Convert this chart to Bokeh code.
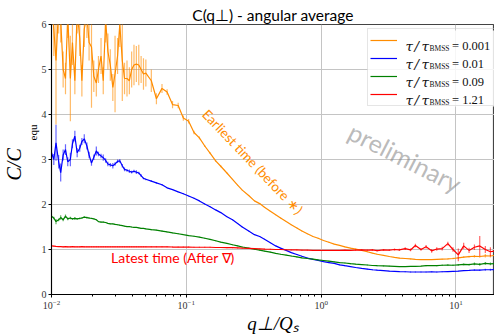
import numpy as np
from bokeh.plotting import figure
from bokeh.models import (ColumnDataSource, Legend, LegendItem, Label, Range1d, FixedTicker,
                          Title, BoxAnnotation)
from bokeh.embed import file_html
from bokeh.resources import INLINE

# ---------------- data ----------------
q = [0.0100, 0.0104, 0.0108, 0.0113, 0.0117, 0.0122, 0.0127, 0.0132, 0.0138, 0.0143,
     0.0149, 0.0155, 0.0162, 0.0168, 0.0175, 0.0183, 0.0190, 0.0198, 0.0206, 0.0215,
     0.0223, 0.0233, 0.0242, 0.0252, 0.0262, 0.0273, 0.0285, 0.0296, 0.0309, 0.0321,
     0.0335, 0.0348, 0.0363, 0.0378, 0.0393, 0.0409, 0.0426, 0.0444, 0.0462, 0.0481, 0.0501,
     0.055, 0.060, 0.066, 0.072, 0.079, 0.087, 0.095, 0.104, 0.114, 0.125,
     0.137, 0.150, 0.165, 0.18, 0.20, 0.22, 0.24, 0.26, 0.29, 0.32,
     0.35, 0.38, 0.42, 0.46, 0.50, 0.55, 0.60, 0.66, 0.72, 0.79,
     0.87, 0.95, 1.04, 1.14, 1.25, 1.37, 1.50, 1.65, 1.8, 2.0,
     2.2, 2.4, 2.6, 2.9, 3.2, 3.5, 3.8, 4.2, 4.6, 5.0,
     5.5, 6.0, 6.6, 7.2, 7.9, 8.7, 9.5, 10.4, 11.4, 12.5,
     13.7, 15.0, 16.5, 18.0, 19.5]

c_0001 = [6.5, 5.9, 5.2, 6.4, 6.1, 5.0, 4.8, 6.2, 4.8, 5.6,
          4.75, 6.3, 5.7, 4.75, 5.9, 6.2, 5.6, 5.5, 4.85, 4.7,
          5.0, 5.3, 4.75, 6.1, 5.4, 5.1, 4.6, 4.9, 5.3, 6.0,
          5.2, 4.8, 4.8, 4.75, 5.0, 5.1, 5.12, 5.1, 5.0, 4.9, 4.92,
          4.75, 4.35, 4.58, 4.5, 4.22, 4.2, 3.92, 3.85, 3.6, 3.48,
          3.3, 3.14, 2.97, 2.85, 2.70, 2.56, 2.43, 2.32, 2.20, 2.08,
          2.02, 1.94, 1.85, 1.77, 1.70, 1.62, 1.55, 1.48, 1.41, 1.35,
          1.29, 1.25, 1.20, 1.16, 1.12, 1.09, 1.06, 1.03, 1.01, 0.98,
          0.95, 0.92, 0.895, 0.87, 0.845, 0.825, 0.81, 0.80, 0.79, 0.78,
          0.775, 0.775, 0.775, 0.78, 0.785, 0.79, 0.80, 0.815, 0.83, 0.84,
          0.85, 0.845, 0.86, 0.855, 0.87]
e_0001 = [0.5, 0.6, 1.42, 0.6, 0.5, 0.4, 0.35, 0.5, 0.95, 0.5,
          0.3, 0.5, 0.4, 0.35, 0.4, 0.5, 0.4, 1.35, 0.35, 0.3,
          0.3, 0.4, 0.3, 0.5, 0.4, 0.35, 0.3, 0.85, 0.4, 0.5,
          0.9, 0.35, 0.4, 0.3, 0.4, 0.45, 0.4, 0.45, 0.3, 0.35, 0.3,
          0.25, 0.12, 0.10, 0.06, 0.08, 0.06, 0.06, 0.05, 0.04, 0.03,
          0.02, 0.02, 0.02, 0.02, 0.01, 0.01, 0.01, 0.01, 0.01, 0.01,
          0.01, 0.01, 0.01, 0.01, 0.01, 0.01, 0.01, 0.01, 0.01, 0.01,
          0.01, 0.01, 0.01, 0.01, 0.01, 0.01, 0.01, 0.01, 0.01, 0.01,
          0.01, 0.01, 0.01, 0.01, 0.01, 0.01, 0.01, 0.01, 0.01, 0.01,
          0.01, 0.01, 0.01, 0.01, 0.01, 0.01, 0.015, 0.02, 0.02, 0.02,
          0.03, 0.03, 0.04, 0.03, 0.04]

c_001 = [3.15, 3.0, 3.37, 2.95, 2.71, 3.1, 3.22, 2.95, 3.0, 3.35,
         3.52, 3.15, 3.25, 3.40, 3.46, 3.3, 3.1, 2.92, 3.05, 3.19,
         3.12, 3.08, 3.04, 2.98, 2.90, 2.88, 2.86, 2.90, 2.96, 2.97,
         2.86, 2.78, 2.76, 2.74, 2.72, 2.74, 2.72, 2.70, 2.64, 2.58, 2.56,
         2.52, 2.48, 2.44, 2.37, 2.33, 2.28, 2.24, 2.19, 2.14, 2.08,
         2.01, 1.95, 1.88, 1.82, 1.73, 1.66, 1.58, 1.50, 1.41, 1.33,
         1.29, 1.23, 1.15, 1.08, 1.03, 0.98, 0.93, 0.89, 0.85, 0.81,
         0.78, 0.76, 0.73, 0.71, 0.69, 0.66, 0.64, 0.62, 0.60, 0.58,
         0.565, 0.55, 0.54, 0.53, 0.52, 0.515, 0.51, 0.505, 0.50, 0.50,
         0.50, 0.50, 0.505, 0.50, 0.505, 0.51, 0.515, 0.52, 0.53, 0.535,
         0.545, 0.54, 0.55, 0.55, 0.555]
e_001 = [0.15, 0.12, 0.4, 0.15, 0.2, 0.12, 0.12, 0.1, 0.15, 0.1,
         0.12, 0.1, 0.08, 0.08, 0.1, 0.08, 0.07, 0.06, 0.06, 0.1,
         0.05, 0.05, 0.07, 0.05, 0.05, 0.04, 0.06, 0.04, 0.04, 0.04,
         0.04, 0.04, 0.03, 0.04, 0.03, 0.03, 0.04, 0.03, 0.03, 0.02, 0.02,
         0.02, 0.02, 0.015, 0.01, 0.01, 0.01, 0.01, 0.01, 0.01, 0.01,
         0.01, 0.01, 0.01, 0.01, 0.01, 0.01, 0.01, 0.01, 0.01, 0.01,
         0.01, 0.01, 0.01, 0.01, 0.01, 0.01, 0.01, 0.01, 0.01, 0.01,
         0.01, 0.01, 0.01, 0.01, 0.01, 0.01, 0.01, 0.01, 0.01, 0.01,
         0.01, 0.01, 0.01, 0.01, 0.01, 0.01, 0.01, 0.01, 0.01, 0.01,
         0.01, 0.01, 0.01, 0.01, 0.01, 0.01, 0.01, 0.01, 0.01, 0.01,
         0.015, 0.015, 0.02, 0.02, 0.02]

c_009 = [1.74, 1.70, 1.62, 1.66, 1.71, 1.66, 1.74, 1.68, 1.70, 1.68,
         1.69, 1.68, 1.69, 1.70, 1.72, 1.71, 1.70, 1.69, 1.68, 1.66,
         1.62, 1.61, 1.61, 1.60, 1.58, 1.57, 1.57, 1.56, 1.55, 1.54,
         1.53, 1.52, 1.51, 1.51, 1.50, 1.49, 1.49, 1.48, 1.47, 1.47, 1.46,
         1.44, 1.43, 1.41, 1.39, 1.37, 1.35, 1.33, 1.31, 1.295, 1.275,
         1.25, 1.225, 1.195, 1.165, 1.135, 1.105, 1.08, 1.055, 1.03, 1.005,
         0.985, 0.965, 0.94, 0.915, 0.895, 0.875, 0.855, 0.835, 0.815, 0.80,
         0.785, 0.77, 0.755, 0.74, 0.725, 0.71, 0.70, 0.685, 0.675, 0.665,
         0.655, 0.645, 0.64, 0.635, 0.63, 0.625, 0.62, 0.62, 0.625, 0.625,
         0.63, 0.64, 0.645, 0.64, 0.65, 0.655, 0.65, 0.66, 0.67, 0.665,
         0.68, 0.67, 0.69, 0.68, 0.69]
e_009 = [0.04, 0.03, 0.06, 0.03, 0.05, 0.03, 0.04, 0.03, 0.03, 0.02,
         0.03, 0.02, 0.02, 0.02, 0.02, 0.02, 0.02, 0.01, 0.01, 0.01,
         0.01, 0.01, 0.01, 0.01, 0.01, 0.01, 0.01, 0.01, 0.01, 0.01,
         0.01, 0.01, 0.01, 0.01, 0.01, 0.01, 0.01, 0.01, 0.01, 0.01, 0.01,
         0.01, 0.01, 0.01, 0.01, 0.01, 0.01, 0.01, 0.01, 0.01, 0.01,
         0.01, 0.01, 0.01, 0.01, 0.01, 0.01, 0.01, 0.01, 0.01, 0.01,
         0.01, 0.01, 0.01, 0.01, 0.01, 0.01, 0.01, 0.01, 0.01, 0.01,
         0.01, 0.01, 0.01, 0.01, 0.01, 0.01, 0.01, 0.01, 0.01, 0.01,
         0.01, 0.01, 0.01, 0.01, 0.01, 0.01, 0.01, 0.01, 0.01, 0.01,
         0.01, 0.01, 0.01, 0.01, 0.015, 0.015, 0.015, 0.02, 0.02, 0.02,
         0.03, 0.03, 0.03, 0.03, 0.03]

c_121 = [1.08, 1.075, 1.07, 1.065, 1.065, 1.06, 1.065, 1.06, 1.06, 1.065,
         1.06, 1.06, 1.06, 1.065, 1.06, 1.06, 1.06, 1.06, 1.06, 1.06,
         1.06, 1.06, 1.06, 1.06, 1.06, 1.06, 1.06, 1.06, 1.06, 1.06,
         1.06, 1.06, 1.06, 1.06, 1.06, 1.06, 1.06, 1.06, 1.06, 1.06, 1.06,
         1.06, 1.06, 1.06, 1.06, 1.055, 1.055, 1.055, 1.055, 1.05, 1.05,
         1.05, 1.05, 1.045, 1.045, 1.04, 1.04, 1.035, 1.03, 1.025, 1.02,
         1.015, 1.01, 1.005, 1.0, 1.0, 0.995, 0.99, 0.99, 0.985, 0.985,
         0.98, 0.98, 0.98, 0.98, 0.98, 0.98, 0.985, 0.98, 0.985, 0.99,
         0.985, 0.99, 0.975, 0.99, 0.985, 1.0, 0.99, 1.02, 0.99, 1.09,
         1.0, 1.06, 0.97, 1.01, 1.02, 1.13, 1.0, 0.88, 1.08, 0.98,
         1.05, 1.08, 1.0, 0.95, 0.97]
e_121 = [0.01, 0.01, 0.01, 0.01, 0.01, 0.01, 0.01, 0.01, 0.01, 0.01,
         0.01, 0.01, 0.01, 0.01, 0.01, 0.01, 0.01, 0.01, 0.01, 0.01,
         0.01, 0.01, 0.01, 0.01, 0.01, 0.01, 0.01, 0.01, 0.01, 0.01,
         0.01, 0.01, 0.01, 0.01, 0.01, 0.01, 0.01, 0.01, 0.01, 0.01, 0.01,
         0.01, 0.01, 0.01, 0.01, 0.01, 0.01, 0.01, 0.01, 0.01, 0.01,
         0.01, 0.01, 0.01, 0.01, 0.01, 0.01, 0.01, 0.01, 0.01, 0.01,
         0.01, 0.01, 0.01, 0.01, 0.01, 0.01, 0.01, 0.01, 0.01, 0.01,
         0.01, 0.01, 0.01, 0.01, 0.01, 0.01, 0.01, 0.01, 0.015, 0.015,
         0.015, 0.02, 0.02, 0.02, 0.02, 0.02, 0.025, 0.03, 0.03, 0.04,
         0.03, 0.04, 0.04, 0.04, 0.04, 0.04, 0.05, 0.14, 0.07, 0.06,
         0.06, 0.22, 0.08, 0.1, 0.08]

tau_labels = ["0.001", "0.01", "0.09", "1.21"]
series_values = [c_0001, c_001, c_009, c_121]
series_errors = [e_0001, e_001, e_009, e_121]
colors = ["#ff8c00", "#0000ff", "#008000", "#ff0000"]
y_ticks = [0, 1, 2, 3, 4, 5, 6]

# ---------------- figure ----------------
FL, FT, FB = 45, 24, 296  # intended frame left / top / bottom (canvas px)

p = figure(width=494, height=336, x_axis_type="log",
           x_range=Range1d(0.01, 19.3), y_range=Range1d(0, 6),
           output_backend="svg", toolbar_location=None,
           title="C(q⊥) - angular average",
           min_border_left=FL, min_border_right=0, min_border_top=FT,
           min_border_bottom=336 - FB)
p.background_fill_color = "white"
p.border_fill_color = "white"
p.outline_line_color = "#444444"
p.outline_line_width = 1.2

p.title.text_font = "Lato"
p.title.text_font_size = "15.5px"
p.title.text_font_style = "normal"
p.title.text_color = "black"
p.title.align = "center"
p.title.standoff = 1

for ax in (p.xaxis[0], p.yaxis[0]):
    ax.axis_line_color = "black"
    ax.axis_line_width = 1
    ax.major_tick_in = 0
    ax.major_tick_out = 3
    ax.major_tick_line_color = "black"
    ax.major_label_text_font = "Liberation Serif"
    ax.major_label_text_font_size = "10px"
    ax.major_label_text_color = "#333333"
    ax.major_label_standoff = 2
p.xaxis.minor_tick_in = 0
p.xaxis.minor_tick_out = 2
p.xaxis.minor_tick_line_color = "black"
p.yaxis.minor_tick_line_color = None
p.yaxis.ticker = FixedTicker(ticks=y_ticks)

p.xaxis.axis_label = "q⊥/Qₛ"
p.xaxis.axis_label_text_font = "Liberation Serif"
p.xaxis.axis_label_text_font_style = "italic"
p.xaxis.axis_label_text_font_size = "19px"
p.xaxis.axis_label_text_color = "black"
p.xaxis.axis_label_standoff = 1

# y label: "C/C" with subscript "equ", as two stacked side titles
p.add_layout(Title(text="equ", text_font="Liberation Serif", text_font_size="11px",
                   text_font_style="normal", text_color="black",
                   align="left", offset=FB - 142, standoff=0), "left")
p.add_layout(Title(text="C/C", text_font="Liberation Serif", text_font_size="20px",
                   text_font_style="italic", text_color="black",
                   align="left", offset=FB - 182, standoff=0), "left")

p.xgrid.grid_line_color = "#c4c4c4"
p.ygrid.grid_line_color = "#c4c4c4"
p.xgrid.grid_line_width = 1
p.ygrid.grid_line_width = 1

items = []
for lab, vals, errs, col in zip(tau_labels, series_values, series_errors, colors):
    v = np.array(vals)
    e = np.array(errs)
    src = ColumnDataSource(dict(q=q, c=v, lo=v - e, hi=v + e))
    p.segment(x0="q", y0="lo", x1="q", y1="hi", source=src,
              line_color=col, line_alpha=0.6, line_width=1.2)
    r_line = p.line(x="q", y="c", source=src, line_color=col, line_width=1.2)
    r_mark = p.scatter(x=[], y=[], marker="cross", size=10, line_color=col, line_width=1.2)
    items.append(LegendItem(label=" ", renderers=[r_line, r_mark]))

# legend background box drawn beneath legend glyphs and texts
LB_L, LB_B, LB_W, LB_H = 316, 188, 128, 76
p.add_layout(BoxAnnotation(left=LB_L, right=LB_L + LB_W, bottom=LB_B, top=LB_B + LB_H,
                           left_units="screen", right_units="screen",
                           bottom_units="screen", top_units="screen",
                           fill_color="white", fill_alpha=0.85, line_color=None,
                           level="underlay"))

legend = Legend(items=items, location=(LB_L, LB_B), orientation="vertical",
                padding=2, spacing=0, margin=0,
                glyph_width=27, glyph_height=18, label_height=18,
                label_width=88, label_standoff=8,
                label_text_font_size="8px",
                background_fill_alpha=0.0,
                border_line_color="#cccccc", border_line_width=1)
p.add_layout(legend)


def add_text(txt, px, py, size, font="Liberation Serif", style="normal",
             color="black", angle=0.0, align="left", baseline="alphabetic"):
    """Place a legend text by canvas pixel position (converted to frame screen units)."""
    p.add_layout(Label(text=txt, x=px - FL, y=FB - py, x_units="screen", y_units="screen",
                       text_font=font, text_font_size=size, text_font_style=style,
                       text_color=color, angle=angle,
                       text_align=align, text_baseline=baseline))


row_centers = [43, 61, 79, 97]
for lab, cy in zip(tau_labels, row_centers):
    add_text("τ", 399, cy + 4, "13.5px", font="DejaVu Serif", style="italic", color="#111111")
    add_text("/", 408, cy + 4, "13.5px", font="DejaVu Serif", style="italic", color="#111111")
    add_text("τ", 415, cy + 4, "13.5px", font="DejaVu Serif", style="italic", color="#111111")
    add_text("BMSS", 423, cy + 7, "7.5px", color="#111111")
    add_text("= " + lab, 445.5, cy + 4, "12.5px", color="#111111")

# annotations in data space
p.add_layout(Label(x=0.31, y=2.95, text="Earliest time (before ∗)", text_font="Lato",
                   text_font_size="13.5px", text_color="#ff8c00", angle=-0.81,
                   text_align="center", text_baseline="middle"))
p.add_layout(Label(x=0.0794, y=0.82, text="Latest time (After ∇)", text_font="Lato",
                   text_font_size="14px", text_color="#ff0000",
                   text_align="center", text_baseline="middle"))
p.add_layout(Label(x=4.2, y=3.05, text="preliminary", text_font="Lato",
                   text_font_size="25px", text_color="#808080", text_alpha=0.55,
                   angle=-0.47, text_align="center", text_baseline="middle"))

open("out.html", "w").write(file_html(p, INLINE))
